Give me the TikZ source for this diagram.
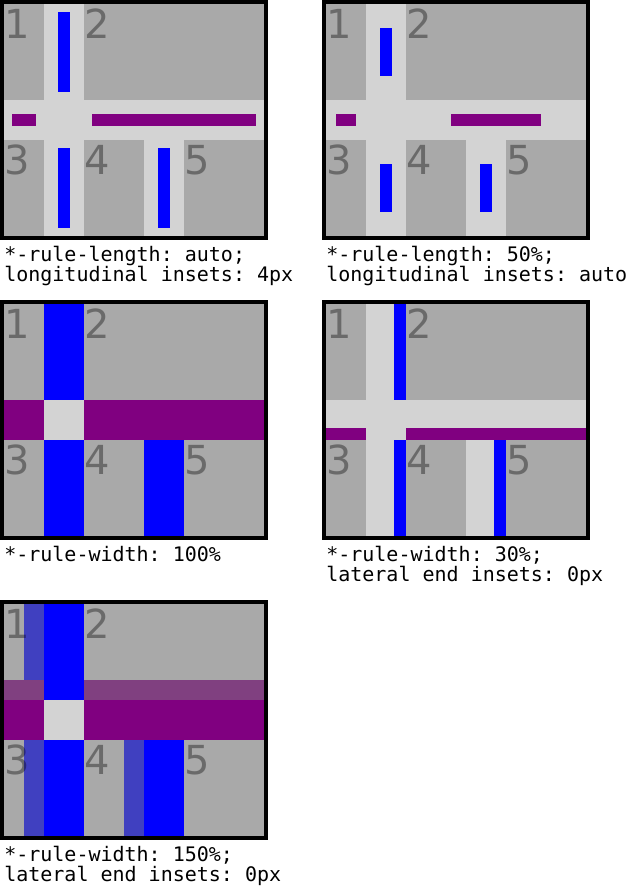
\documentclass[tikz,border=0pt]{standalone}
\usepackage{fontspec}
\newfontfamily\capfont{DejaVu Sans Mono}[WordSpace={1,0,0}]
\newfontfamily\numfont{DejaVu Sans}
\definecolor{cellgray}{RGB}{169,169,169}
\definecolor{gapgray}{RGB}{211,211,211}
\definecolor{rulepurple}{RGB}{128,0,128}
\definecolor{ruleblue}{RGB}{0,0,255}
\definecolor{ghostblue}{RGB}{64,64,192}
\definecolor{ghostpurple}{RGB}{128,64,128}
\tikzset{
  frame/.style={fill=black},
  gapfill/.style={fill=gapgray},
  cellfill/.style={fill=cellgray},
  vrule/.style={fill=ruleblue},
  hrule/.style={fill=rulepurple},
  vghost/.style={fill=ghostblue},
  hghost/.style={fill=ghostpurple},
  cellnum/.style={anchor=base west, inner sep=0pt, text=black, text opacity=0.37,
    font=\numfont\fontsize{30pt}{30pt}\selectfont},
  caption/.style={anchor=base west, inner sep=0pt, text=black,
    font=\capfont\fontsize{15pt}{15pt}\selectfont\frenchspacing},
}
\newcommand\panelbase{%
  \fill[frame] (0,0) rectangle (268,240);
  \fill[gapfill] (4,4) rectangle (264,236);
  \fill[cellfill] (4,4) rectangle (44,100);
  \fill[cellfill] (84,4) rectangle (264,100);
  \fill[cellfill] (4,140) rectangle (44,236);
  \fill[cellfill] (84,140) rectangle (144,236);
  \fill[cellfill] (184,140) rectangle (264,236);
}
\newcommand\panelnums[1]{%
  \node[cellnum] (#1n1) at (4,38) {1};
  \node[cellnum] (#1n2) at (84,38) {2};
  \node[cellnum] (#1n3) at (4,174) {3};
  \node[cellnum] (#1n4) at (84,174) {4};
  \node[cellnum] (#1n5) at (184,174) {5};
}
\begin{document}
\begin{tikzpicture}[x=0.75pt,y=-0.75pt]
\useasboundingbox (0,0) rectangle (629,889);
% Panel 1
\begin{scope}[shift={(0,0)}]
  \panelbase
  \fill[vrule] (58,12) rectangle (70,92);
  \fill[vrule] (58,148) rectangle (70,228);
  \fill[vrule] (158,148) rectangle (170,228);
  \fill[hrule] (12,114) rectangle (36,126);
  \fill[hrule] (92,114) rectangle (256,126);
  \panelnums{a}
  \node[caption] (acap1) at (4,261) {*-rule-length: auto;};
  \node[caption] (acap2) at (4,281) {longitudinal insets: 4px};
\end{scope}
% Panel 2
\begin{scope}[shift={(322,0)}]
  \panelbase
  \fill[vrule] (58,28) rectangle (70,76);
  \fill[vrule] (58,164) rectangle (70,212);
  \fill[vrule] (158,164) rectangle (170,212);
  \fill[hrule] (14,114) rectangle (34,126);
  \fill[hrule] (129,114) rectangle (219,126);
  \panelnums{b}
  \node[caption] (bcap1) at (4,261) {*-rule-length: 50\%;};
  \node[caption] (bcap2) at (4,281) {longitudinal insets: auto};
\end{scope}
% Panel 3
\begin{scope}[shift={(0,300)}]
  \panelbase
  \fill[vrule] (44,4) rectangle (84,100);
  \fill[vrule] (44,140) rectangle (84,236);
  \fill[vrule] (144,140) rectangle (184,236);
  \fill[hrule] (4,100) rectangle (44,140);
  \fill[hrule] (84,100) rectangle (264,140);
  \panelnums{c}
  \node[caption] (ccap1) at (4,261) {*-rule-width: 100\%};
\end{scope}
% Panel 4
\begin{scope}[shift={(322,300)}]
  \panelbase
  \fill[vrule] (72,4) rectangle (84,100);
  \fill[vrule] (72,140) rectangle (84,236);
  \fill[vrule] (172,140) rectangle (184,236);
  \fill[hrule] (4,128) rectangle (44,140);
  \fill[hrule] (84,128) rectangle (264,140);
  \panelnums{d}
  \node[caption] (dcap1) at (4,261) {*-rule-width: 30\%;};
  \node[caption] (dcap2) at (4,281) {lateral end insets: 0px};
\end{scope}
% Panel 5
\begin{scope}[shift={(0,600)}]
  \panelbase
  \fill[vghost] (24,4) rectangle (44,80);
  \fill[vghost] (24,140) rectangle (44,236);
  \fill[vghost] (124,140) rectangle (144,236);
  \fill[hghost] (4,80) rectangle (44,100);
  \fill[hghost] (84,80) rectangle (264,100);
  \fill[vrule] (44,4) rectangle (84,100);
  \fill[vrule] (44,140) rectangle (84,236);
  \fill[vrule] (144,140) rectangle (184,236);
  \fill[hrule] (4,100) rectangle (44,140);
  \fill[hrule] (84,100) rectangle (264,140);
  \panelnums{e}
  \node[caption] (ecap1) at (4,261) {*-rule-width: 150\%;};
  \node[caption] (ecap2) at (4,281) {lateral end insets: 0px};
\end{scope}
\end{tikzpicture}
\end{document}
